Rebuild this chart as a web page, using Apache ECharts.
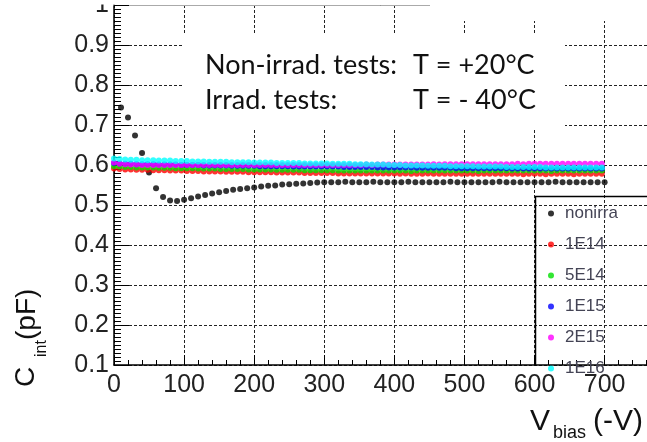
<!DOCTYPE html>
<html><head><meta charset="utf-8">
<script src="https://cdn.jsdelivr.net/npm/echarts@6/dist/echarts.min.js"></script>
<style>html,body{margin:0;padding:0;background:#fff;overflow:hidden}#c{width:647px;height:442px}</style>
</head><body><div id="c"></div>
<script>
const seriesNames = ['nonirra','1E14','5E14','1E15','2E15','1E16'];
const seriesColors = ['#000000','#ff0000','#00e000','#0000ff','#ff00ff','#00ffff'];
const xTicks = [0,100,200,300,400,500,600,700];
const yTicks = [0.1,0.2,0.3,0.4,0.5,0.6,0.7,0.8,0.9,1];

const nonirraV = [10,20,30,40,50,60,70,80,90,100,110,120,130,140,150,160,170,180,190,200,
210,220,230,240,250,260,270,280,290,300,310,320,330,340,350,360,370,380,390,400,
410,420,430,440,450,460,470,480,490,500,510,520,530,540,550,560,570,580,590,600,
610,620,630,640,650,660,670,680,690,700];
const nonirraC = [0.744,0.719,0.674,0.630,0.581,0.542,0.520,0.511,0.510,0.513,
0.517,0.521,0.525,0.529,0.532,0.535,0.538,0.540,0.542,0.544,
0.546,0.548,0.549,0.551,0.552,0.553,0.554,0.555,0.556,0.557,
0.557,0.557,0.558,0.557,0.557,0.557,0.558,0.557,0.557,0.557,
0.557,0.558,0.557,0.557,0.557,0.557,0.557,0.558,0.557,0.557,
0.557,0.557,0.557,0.557,0.558,0.557,0.557,0.557,0.557,0.557,
0.557,0.557,0.558,0.557,0.557,0.557,0.557,0.557,0.557,0.557];

const irrV = [0,8,16,24,32,40,48,56,64,72,80,88,96,104,112,120,128,136,144,152,
160,168,176,184,192,200,208,216,224,232,240,248,256,264,272,280,288,296,304,312,
320,328,336,344,352,360,368,376,384,392,400,408,416,424,432,440,448,456,464,472,
480,488,496,504,512,520,528,536,544,552,560,568,576,584,592,600,608,616,624,632,
640,648,656,664,672,680,688,696];
const c1E14 = [0.591,0.590,0.589,0.589,0.588,0.588,0.588,0.587,0.587,0.587,
0.586,0.586,0.586,0.585,0.585,0.585,0.584,0.584,0.584,0.584,
0.583,0.583,0.583,0.583,0.582,0.582,0.582,0.582,0.582,0.581,
0.581,0.581,0.581,0.581,0.580,0.580,0.580,0.580,0.580,0.580,
0.579,0.579,0.579,0.579,0.579,0.579,0.579,0.579,0.579,0.579,
0.579,0.578,0.579,0.578,0.578,0.578,0.579,0.578,0.578,0.578,
0.578,0.578,0.578,0.578,0.578,0.578,0.578,0.578,0.578,0.578,
0.578,0.578,0.578,0.577,0.578,0.578,0.578,0.577,0.578,0.578,
0.578,0.578,0.577,0.578,0.578,0.578,0.578,0.578];
const c5E14 = [0.597,0.596,0.595,0.595,0.594,0.594,0.594,0.594,0.593,0.593,
0.593,0.592,0.592,0.592,0.592,0.591,0.591,0.591,0.591,0.590,
0.590,0.590,0.590,0.590,0.589,0.589,0.589,0.589,0.589,0.588,
0.588,0.588,0.588,0.588,0.587,0.587,0.587,0.587,0.587,0.587,
0.586,0.586,0.586,0.586,0.586,0.586,0.586,0.586,0.586,0.586,
0.586,0.586,0.586,0.585,0.586,0.586,0.586,0.586,0.586,0.586,
0.586,0.586,0.586,0.586,0.586,0.585,0.586,0.586,0.586,0.586,
0.586,0.586,0.586,0.586,0.586,0.586,0.586,0.586,0.585,0.586,
0.586,0.586,0.586,0.586,0.586,0.586,0.586,0.586];
const c1E15 = [0.605,0.604,0.603,0.603,0.602,0.602,0.602,0.602,0.601,0.601,
0.601,0.601,0.600,0.600,0.600,0.600,0.599,0.599,0.599,0.599,
0.599,0.598,0.598,0.598,0.598,0.598,0.597,0.597,0.597,0.597,
0.597,0.597,0.596,0.596,0.596,0.596,0.596,0.596,0.596,0.596,
0.596,0.595,0.595,0.595,0.595,0.595,0.595,0.594,0.594,0.594,
0.594,0.594,0.594,0.594,0.593,0.593,0.593,0.593,0.593,0.593,
0.593,0.592,0.592,0.592,0.592,0.592,0.592,0.592,0.592,0.592,
0.592,0.591,0.591,0.591,0.591,0.591,0.591,0.591,0.591,0.591,
0.591,0.591,0.591,0.591,0.591,0.591,0.591,0.591];
const c2E15 = [0.606,0.603,0.602,0.601,0.601,0.600,0.600,0.600,0.600,0.600,
0.600,0.600,0.600,0.600,0.600,0.600,0.600,0.600,0.600,0.600,
0.600,0.600,0.600,0.600,0.600,0.600,0.600,0.600,0.600,0.600,
0.600,0.600,0.600,0.600,0.600,0.600,0.600,0.600,0.600,0.600,
0.600,0.600,0.600,0.600,0.600,0.601,0.600,0.601,0.601,0.601,
0.601,0.601,0.601,0.601,0.601,0.601,0.601,0.602,0.601,0.602,
0.602,0.602,0.602,0.602,0.602,0.602,0.602,0.602,0.602,0.602,
0.602,0.602,0.603,0.602,0.603,0.603,0.603,0.603,0.603,0.603,
0.603,0.603,0.603,0.603,0.603,0.603,0.603,0.603];
const c1E16 = [0.616,0.615,0.614,0.613,0.613,0.612,0.612,0.612,0.611,0.611,
0.611,0.610,0.610,0.610,0.609,0.609,0.609,0.608,0.608,0.608,
0.608,0.607,0.607,0.607,0.607,0.606,0.606,0.606,0.606,0.605,
0.605,0.605,0.605,0.605,0.604,0.604,0.604,0.604,0.604,0.603,
0.603,0.603,0.603,0.602,0.602,0.602,0.601,0.601,0.601,0.600,
0.600,0.600,0.599,0.599,0.599,0.599,0.598,0.598,0.598,0.598,
0.597,0.597,0.597,0.597,0.597,0.596,0.596,0.596,0.596,0.596,
0.595,0.595,0.595,0.595,0.595,0.595,0.595,0.594,0.594,0.594,
0.594,0.594,0.594,0.594,0.594,0.594,0.594,0.594];

const seriesX = [nonirraV, irrV, irrV, irrV, irrV, irrV];
const seriesY = [nonirraC, c1E14, c5E14, c1E15, c2E15, c1E16];

const chart = echarts.init(document.getElementById('c'), null, {renderer:'canvas'});
const FONT = 'Liberation Sans';
const series = seriesNames.map((n,k)=>({
  name:n, type:'scatter', symbol:'circle', symbolSize:6,
  itemStyle:{color:seriesColors[k]},
  data: seriesX[k].map((v,i)=>[v, seriesY[k][i]]),
  z: 2+k, animation:false, clip:false
}));

chart.setOption({
  animation:false,
  backgroundColor:'#fff',
  grid:{left:114,right:-20,top:5,bottom:77,outerBoundsMode:'none',containLabel:false},
  xAxis:[{type:'value',min:0,max:789,interval:100,
    axisLine:{lineStyle:{color:'#000',width:1.5}},
    axisTick:{inside:true,length:10,lineStyle:{color:'#000'}},
    minorTick:{show:true,splitNumber:5,length:5,lineStyle:{color:'#000'}},
    splitLine:{show:true,showMaxLine:false,lineStyle:{color:'#222',type:[3,2],width:1}},
    axisLabel:{fontFamily:FONT,fontSize:25,color:'#222',margin:8,
      formatter:v=> xTicks.includes(v)? String(v):''}
  },{type:'value',position:'top',min:0,max:789,interval:100,
    axisLine:{show:true,lineStyle:{color:'#aaa',width:1}},
    axisTick:{show:false},axisLabel:{show:false},splitLine:{show:false}
  }],
  yAxis:{type:'value',min:0.1,max:1.0,interval:0.1,
    axisLine:{lineStyle:{color:'#000',width:1.5}},
    axisTick:{inside:true,length:15,lineStyle:{color:'#000'}},
    minorTick:{show:true,splitNumber:10,length:7,lineStyle:{color:'#000'}},
    splitLine:{show:true,lineStyle:{color:'#222',type:[3,2],width:1}},
    axisLabel:{fontFamily:FONT,fontSize:25,color:'#222',margin:5,
      formatter:v=>{const r=Math.round(v*10)/10; const t=yTicks.find(q=>Math.abs(q-r)<1e-6); return t===undefined?'':String(t);}}
  },
  legend:{data:seriesNames,orient:'vertical',left:535,top:196,
    padding:[9,20,6,13],borderWidth:0,
    itemGap:14,itemWidth:6,itemHeight:6,icon:'circle',
    textStyle:{fontFamily:FONT,fontSize:17,color:'#445',lineHeight:14,padding:[0,0,0,6]}
  },
  graphic:[
    {type:'rect',z:100,shape:{x:182.5,y:33,width:382.5,height:96},style:{fill:'#fff'}},
    {type:'rect',z:100,shape:{x:430,y:0,width:217,height:21},style:{fill:'#fff'}},
    {type:'rect',z:100,shape:{x:0,y:0,width:430,height:4.5},style:{fill:'#fff'}},
    {type:'polyline',z:50,shape:{points:[[760,196.5],[535.5,196.5],[535.5,366]]},style:{fill:null,stroke:'#000',lineWidth:1.5}},
    {type:'text',z:101,x:205,y:65,style:{text:'Non-irrad. tests:',font:'27px Lato',fill:'#111',verticalAlign:'middle'}},
    {type:'text',z:101,x:413,y:65,style:{text:'T = +20°C',font:'27px Lato',fill:'#111',verticalAlign:'middle'}},
    {type:'text',z:101,x:205,y:100,style:{text:'Irrad. tests:',font:'27px Lato',fill:'#111',verticalAlign:'middle'}},
    {type:'text',z:101,x:413,y:100,style:{text:'T = - 40°C',font:'27px Lato',fill:'#111',verticalAlign:'middle'}},
    {type:'text',z:101,x:530,y:422,style:{text:'V',font:'30px "Liberation Sans"',fill:'#111',verticalAlign:'middle'}},
    {type:'text',z:101,x:553,y:433,style:{text:'bias',font:'18px "Liberation Sans"',fill:'#111',verticalAlign:'middle'}},
    {type:'text',z:101,x:593,y:422,style:{text:'(-V)',font:'30px "Liberation Sans"',fill:'#111',verticalAlign:'middle'}},
    {type:'group',x:26,y:387,rotation:Math.PI/2,children:[
      {type:'text',z:101,x:0,y:0,style:{text:'C',font:'28px "Liberation Sans"',fill:'#111',verticalAlign:'middle'}},
      {type:'text',z:101,x:30,y:16,style:{text:'int',font:'16px "Liberation Sans"',fill:'#111',verticalAlign:'middle'}},
      {type:'text',z:101,x:47,y:1,style:{text:'(pF)',font:'28px "Liberation Sans"',fill:'#111',verticalAlign:'middle'}}
    ]}
  ],
  series: series
});
</script></body></html>
